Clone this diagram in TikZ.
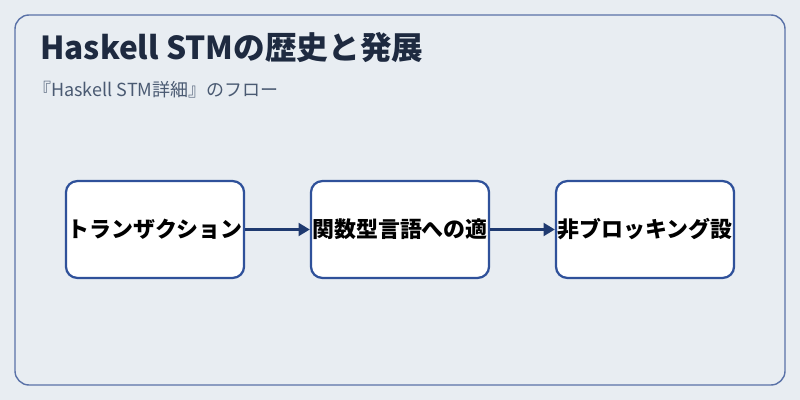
\documentclass[tikz,border=0pt]{standalone}
\usepackage{fontspec}
\setmainfont{Noto Sans CJK JP}
\usetikzlibrary{arrows.meta}
\definecolor{bgc}{HTML}{E8EDF2}
\definecolor{framec}{HTML}{5A72A8}
\definecolor{boxc}{HTML}{2F519A}
\definecolor{arrc}{HTML}{1F3A70}
\definecolor{titlec}{HTML}{1E2A40}
\definecolor{subc}{HTML}{4A5A72}
\tikzset{
  stage/.style={draw=boxc, line width=1.6pt, fill=white, rounded corners=8pt,
    minimum width=4.45cm, minimum height=2.42cm, inner sep=0pt,
    font=\fontsize{15.6}{17}\selectfont\bfseries, text=black},
  flow/.style={draw=arrc, line width=2.4pt, -{Triangle[length=8pt,width=9pt]}}
}
\begin{document}
\begin{tikzpicture}[x=0.025cm, y=-0.025cm]
    \useasboundingbox (0,0) rectangle (800,400);
    \fill[bgc] (0,0) rectangle (800,400);
    \draw[framec, line width=1pt, rounded corners=10pt] (15,15) rectangle (785,385);
    \node[anchor=west, inner sep=0pt, text=titlec, font=\fontsize{22.5}{24}\selectfont\bfseries] (title) at (40,48) {Haskell STMの歴史と発展};
    \node[anchor=west, inner sep=0pt, text=subc, font=\fontsize{12.8}{14}\selectfont] (sub) at (33,90) {『Haskell STM詳細』のフロー};
    \node[stage] (tx) at (155,229.5) {トランザクション};
    \node[stage] (fn) at (400,229.5) {関数型言語への適};
    \node[stage] (nb) at (645,229.5) {非ブロッキング設};
    \draw[flow] (tx) -- (fn);
    \draw[flow] (fn) -- (nb);
\end{tikzpicture}
\end{document}
